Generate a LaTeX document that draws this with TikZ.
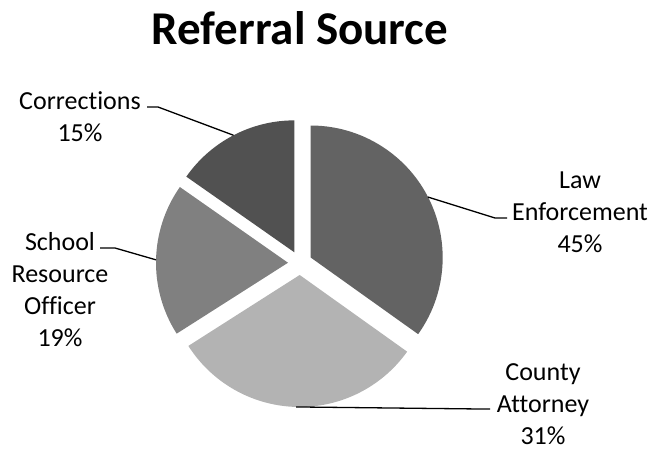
\documentclass[tikz,border=0pt]{standalone}
\usepackage{fontspec}
\setmainfont[Ligatures=NoCommon]{Carlito}
\usetikzlibrary{calc}
\definecolor{lawgray}{RGB}{99,99,99}
\definecolor{countygray}{RGB}{179,179,179}
\definecolor{schoolgray}{RGB}{128,128,128}
\definecolor{corrgray}{RGB}{81,81,81}
\tikzset{
  lbl/.style={align=center, inner sep=0pt, font=\fontsize{26pt}{32pt}\selectfont},
  leader/.style={draw=black, line width=1.3pt}
}
\begin{document}
\begin{tikzpicture}[x=1pt,y=1pt]
            \useasboundingbox (0,0) rectangle (654,450);
            \coordinate (C) at (300,187);

            % slices, each pushed out along its middle
            \coordinate (lawapex) at ($(C)+(27.25:12pt)$);
            \coordinate (countyapex) at ($(C)+(268.5:12pt)$);
            \coordinate (schoolapex) at ($(C)+(178.75:12pt)$);
            \coordinate (corrapex) at ($(C)+(117.5:12pt)$);
            \fill[lawgray] (lawapex) -- +(-35.5:132pt) arc[start angle=-35.5, end angle=90, radius=132pt] -- cycle;
            \fill[countygray] (countyapex) -- +(212.5:132pt) arc[start angle=212.5, end angle=324.5, radius=132pt] -- cycle;
            \fill[schoolgray] (schoolapex) -- +(145:132pt) arc[start angle=145, end angle=212.5, radius=132pt] -- cycle;
            \fill[corrgray] (corrapex) -- +(90:132pt) arc[start angle=90, end angle=145, radius=132pt] -- cycle;

            \node[anchor=base, font=\fontsize{47pt}{54pt}\selectfont\bfseries] (title) at (300,405) {Referral Source};

            \node[lbl] (corr) at (80,333) {Corrections\\15\%};
            \node[lbl] (school) at (60,160) {School\\Resource\\Officer\\19\%};
            \node[lbl] (law) at (580,238) {Law\\Enforcement\\45\%};
            \node[lbl] (county) at (543,46) {County\\Attorney\\31\%};

            % leader lines
            \coordinate (corrtip) at ($(C)+(117.5:144pt)$);
            \coordinate (schooltip) at ($(C)+(178.75:144pt)$);
            \coordinate (lawtip) at ($(C)+(27.25:144pt)$);
            \coordinate (countytip) at ($(C)+(268.5:144pt)$);
            \coordinate (corrend) at (147,343); \coordinate (corrknee) at (158,343);
            \coordinate (schoolend) at (100,202); \coordinate (schoolknee) at (115,202);
            \coordinate (lawend) at (507,232); \coordinate (lawknee) at (495,232);
            \coordinate (countyend) at (490,41); \coordinate (countyknee) at (480,41);

            \draw[leader] (corrend) -- (corrknee) -- (corrtip); \draw[leader] (schoolend) -- (schoolknee) -- (schooltip);
            \draw[leader] (lawend) -- (lawknee) -- (lawtip); \draw[leader] (countyend) -- (countyknee) -- (countytip);
        \end{tikzpicture}
\end{document}
